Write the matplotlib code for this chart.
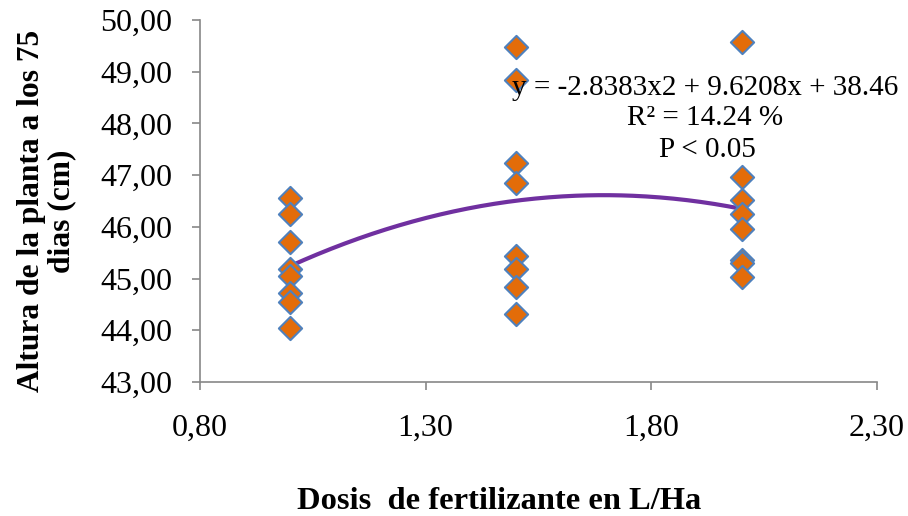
import numpy as np
import matplotlib
matplotlib.use("Agg")
import matplotlib.pyplot as plt
from matplotlib.ticker import FuncFormatter

dose = [1.0]*8 + [1.5]*8 + [2.0]*8
height = [46.55, 46.25, 45.70, 45.18, 45.05, 44.72, 44.55, 44.05,
          49.48, 48.84, 47.24, 46.85, 45.43, 45.18, 44.84, 44.31,
          49.57, 46.97, 46.52, 46.25, 45.95, 45.35, 45.30, 45.04]
coef = [-2.8383, 9.6208, 38.46]
x_ticks = [0.80, 1.30, 1.80, 2.30]
y_ticks = [43, 44, 45, 46, 47, 48, 49, 50]

plt.rcParams['font.family'] = ['Liberation Serif', 'DejaVu Serif']

fig = plt.figure(figsize=(9.08, 5.16), dpi=100)
ax = fig.add_axes([200/908, 1-382/516, 677/908, 362/516])

xs = np.linspace(1.0, 2.0, 200)
ax.plot(xs, np.polyval(coef, xs), color='#7030A0', lw=3, zorder=2)
ax.scatter(dose, height, marker='D', s=140, facecolor='#E36C09',
           edgecolor='#4F81BD', linewidths=1.5, zorder=3)

ax.set_xlim(0.8, 2.3)
ax.set_ylim(43, 50)
ax.set_xticks(x_ticks)
ax.set_yticks(y_ticks)
fmt = FuncFormatter(lambda v, p: f"{v:.2f}".replace('.', ','))
ax.xaxis.set_major_formatter(fmt)
ax.yaxis.set_major_formatter(fmt)
for s in ['top', 'right']:
    ax.spines[s].set_visible(False)
for s in ['left', 'bottom']:
    ax.spines[s].set_color('#888888')
    ax.spines[s].set_linewidth(1.2)
ax.tick_params(axis='both', color='#888888', length=6, width=1.2,
               labelsize=23, direction='out')
ax.tick_params(axis='y', pad=14)
ax.tick_params(axis='x', pad=17)

fig.text(898/908, 1-95/516, "y = -2.8383x2 + 9.6208x + 38.46", ha='right',
         va='baseline', fontsize=21)
fig.text(705/908, 1-125/516, "R² = 14.24 %", ha='center', va='baseline', fontsize=21)
fig.text(707/908, 1-157/516, "P < 0.05", ha='center', va='baseline', fontsize=21)

fig.text(499/908, 1-509/516, "Dosis  de fertilizante en L/Ha", ha='center',
         va='baseline', fontsize=23.4, fontweight='bold')
fig.text(47/908, 1-211/516, "Altura de la planta a los 75\ndias (cm)", ha='center',
         va='center', rotation=90, fontsize=22.7, fontweight='bold',
         multialignment='center', linespacing=1.05)

fig.savefig('out.png', dpi=100)
